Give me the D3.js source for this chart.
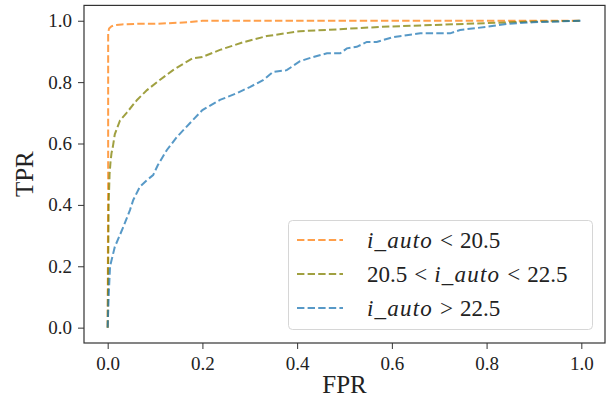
<!DOCTYPE html>
<html>
<head>
<meta charset="utf-8">
<script src="https://cdn.jsdelivr.net/npm/d3@7"></script>
<style>
  html, body { margin: 0; padding: 0; background: #fff; }
  svg { display: block; }
</style>
</head>
<body>
<svg id="chart" width="613" height="403"></svg>
<script>
// ROC curves for three magnitude bins
const fprLow  = [0, 0.001, 0.001, 0.003, 0.008, 0.015, 0.03, 0.06, 0.1, 0.17, 0.2, 0.4, 0.6, 0.8, 1.0];
const tprLow  = [0, 0.5, 0.96, 0.975, 0.982, 0.986, 0.988, 0.99, 0.99, 0.995, 1.0, 1.0, 1.0, 1.0, 1.0];

const fprMid  = [0, 0.001, 0.002, 0.004, 0.006, 0.008, 0.011, 0.015, 0.026, 0.04, 0.062, 0.083, 0.11, 0.138, 0.16, 0.18, 0.2, 0.237, 0.286, 0.336, 0.406, 0.463, 0.575, 0.687, 0.864, 1.0];
const tprMid  = [0, 0.2, 0.4, 0.5, 0.54, 0.568, 0.59, 0.63, 0.675, 0.70, 0.742, 0.774, 0.807, 0.839, 0.86, 0.878, 0.882, 0.905, 0.93, 0.95, 0.966, 0.97, 0.98, 0.986, 0.996, 1.0];

const fprHigh = [0, 0.002, 0.005, 0.015, 0.033, 0.047, 0.054, 0.068, 0.083, 0.096, 0.106, 0.125, 0.146, 0.174, 0.2, 0.237, 0.273, 0.3, 0.329, 0.349, 0.378, 0.406, 0.434, 0.463, 0.491, 0.505, 0.526, 0.547, 0.568, 0.603, 0.66, 0.723, 0.744, 0.8, 0.843, 0.898, 1.0];
const tprHigh = [0, 0.1, 0.2, 0.263, 0.328, 0.383, 0.416, 0.459, 0.481, 0.497, 0.53, 0.579, 0.621, 0.667, 0.709, 0.742, 0.764, 0.784, 0.807, 0.833, 0.839, 0.868, 0.882, 0.894, 0.894, 0.91, 0.915, 0.931, 0.931, 0.947, 0.959, 0.959, 0.97, 0.98, 0.99, 0.995, 1.0];

const seriesNames  = ["low", "mid", "high"];
const seriesColors = ["#ff7f0e", "#808000", "#1f77b4"];
const xTicks = [0, 0.2, 0.4, 0.6, 0.8, 1.0];
const yTicks = [0, 0.2, 0.4, 0.6, 0.8, 1.0];

// legend labels: pieces of each label, italic for the variable name
const legendLabels = [
  [{ t: "i_auto", it: true }, { t: "<", op: true }, { t: "20.5" }],
  [{ t: "20.5" }, { t: "<", op: true }, { t: "i_auto", it: true }, { t: "<", op: true }, { t: "22.5" }],
  [{ t: "i_auto", it: true }, { t: ">", op: true }, { t: "22.5" }]
];

const SERIF = '"Liberation Serif", "Times New Roman", serif';

const series = [
  { name: seriesNames[0], fpr: fprLow,  tpr: tprLow,  color: seriesColors[0] },
  { name: seriesNames[1], fpr: fprMid,  tpr: tprMid,  color: seriesColors[1] },
  { name: seriesNames[2], fpr: fprHigh, tpr: tprHigh, color: seriesColors[2] }
];

const svg = d3.select("#chart").style("font-family", SERIF);
const plot = { left: 84, right: 605, top: 5.4, bottom: 343 };

const x = d3.scaleLinear().domain([-0.05, 1.05]).range([plot.left, plot.right]);
const y = d3.scaleLinear().domain([-0.05, 1.05]).range([plot.bottom, plot.top]);

// curves
const line = d3.line().x(d => x(d[0])).y(d => y(d[1]));
svg.append("g").selectAll("path")
  .data(series)
  .join("path")
  .attr("d", s => line(s.fpr.map((f, i) => [f, s.tpr[i]])))
  .attr("fill", "none")
  .attr("stroke", s => s.color)
  .attr("stroke-opacity", 0.75)
  .attr("stroke-width", 2)
  .attr("stroke-dasharray", "7.4,3.2");

// axes
const fmt = d3.format(".1f");
const xAxis = svg.append("g")
  .attr("transform", `translate(0,${plot.bottom})`)
  .call(d3.axisBottom(x).tickValues(xTicks).tickFormat(fmt).tickSize(6).tickPadding(8));
const yAxis = svg.append("g")
  .attr("transform", `translate(${plot.left},0)`)
  .call(d3.axisLeft(y).tickValues(yTicks).tickFormat(fmt).tickSize(6).tickPadding(6));
[xAxis, yAxis].forEach(a => {
  a.attr("font-family", SERIF).style("font-family", SERIF);
  a.select(".domain").remove();
  a.selectAll(".tick line").attr("stroke", "#333").attr("stroke-width", 1);
  a.selectAll(".tick text")
    .attr("font-size", 19).attr("fill", "#222")
    .attr("font-family", SERIF).style("font-family", SERIF);
});

// frame
svg.append("rect")
  .attr("x", plot.left).attr("y", plot.top)
  .attr("width", plot.right - plot.left).attr("height", plot.bottom - plot.top)
  .attr("fill", "none").attr("stroke", "#333").attr("stroke-width", 1.2);

// axis titles
svg.append("text")
  .attr("x", x(0.5)).attr("y", 393)
  .attr("text-anchor", "middle").attr("font-size", 25).attr("fill", "#222")
  .style("font-family", SERIF)
  .text("FPR");
svg.append("text")
  .attr("transform", `translate(33,${y(0.5)}) rotate(-90)`)
  .attr("text-anchor", "middle").attr("font-size", 25).attr("fill", "#222")
  .style("font-family", SERIF)
  .text("TPR");

// legend
const lg = svg.append("g");
lg.append("rect")
  .attr("x", 288.5).attr("y", 220.5).attr("width", 304).attr("height", 109)
  .attr("rx", 4).attr("fill", "#fff").attr("fill-opacity", 0.8)
  .attr("stroke", "#d6d6d6").attr("stroke-width", 1);
series.forEach((s, i) => {
  const yy = 240 + i * 34;
  lg.append("line")
    .attr("x1", 297).attr("x2", 343).attr("y1", yy).attr("y2", yy)
    .attr("stroke", s.color).attr("stroke-opacity", 0.75)
    .attr("stroke-width", 2).attr("stroke-dasharray", "7.4,3.2");
  const t = lg.append("text")
    .attr("x", 367).attr("y", yy + 7.5)
    .attr("font-size", 23).attr("fill", "#222")
    .style("font-family", SERIF);
  let prevOp = false;
  legendLabels[i].forEach((p, j) => {
    const ts = t.append("tspan").style("font-family", SERIF).text(p.t);
    if (p.it) ts.attr("font-style", "italic").attr("letter-spacing", 1.2);
    if (j > 0 && (p.op || prevOp)) ts.attr("dx", 7);
    prevOp = !!p.op;
  });
});
</script>
</body>
</html>
